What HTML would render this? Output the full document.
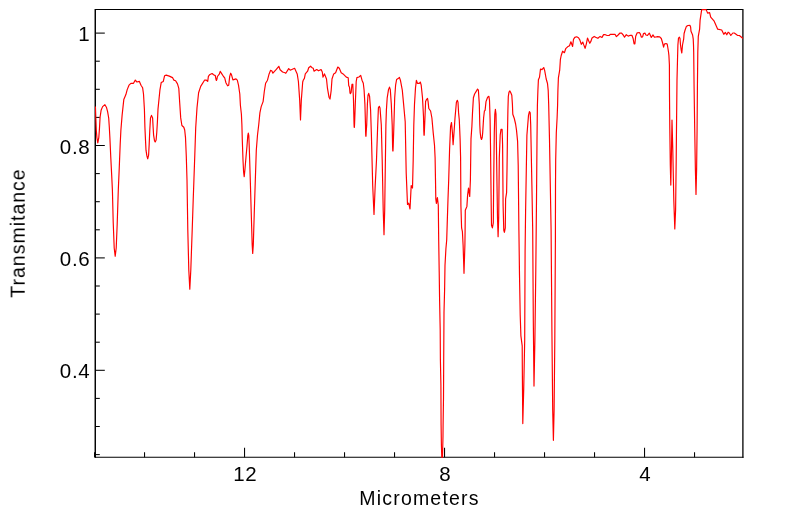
<!DOCTYPE html>
<html><head><meta charset="utf-8"><title>IR Spectrum</title>
<style>
html,body{margin:0;padding:0;background:#fff;}
body{width:799px;height:516px;overflow:hidden;}
svg{display:block;}
text{font-family:"Liberation Sans",sans-serif;fill:#000;}
.tl text{font-size:20.5px;letter-spacing:0.7px;}
.al{font-size:19.5px;letter-spacing:1.2px;}
</style></head>
<body>
<svg width="799" height="516" viewBox="0 0 799 516">
<rect x="0" y="0" width="799" height="516" fill="#fff"/>
<defs><clipPath id="cp"><rect x="95.0" y="8.9" width="648.2" height="448.95"/></clipPath></defs>
<g stroke="#000" stroke-width="1.05" fill="none">
<path d="M95.3,457.25 L95.3,9.5 L742.9,9.5" stroke-linejoin="miter"/>
<path d="M94.8,457.25 L743.5,457.25" stroke-width="1.2"/>
<path d="M742.9,9.0 L742.9,457.75" stroke-width="1.3"/>
<line x1="95.3" y1="9.0" x2="95.3" y2="457.75" stroke-width="1.2"/>
<line x1="95.3" y1="33.10" x2="104.8" y2="33.10"/><line x1="95.3" y1="61.20" x2="99.8" y2="61.20"/><line x1="95.3" y1="89.30" x2="99.8" y2="89.30"/><line x1="95.3" y1="117.40" x2="99.8" y2="117.40"/><line x1="95.3" y1="145.50" x2="104.8" y2="145.50"/><line x1="95.3" y1="173.60" x2="99.8" y2="173.60"/><line x1="95.3" y1="201.70" x2="99.8" y2="201.70"/><line x1="95.3" y1="229.80" x2="99.8" y2="229.80"/><line x1="95.3" y1="257.90" x2="104.8" y2="257.90"/><line x1="95.3" y1="286.00" x2="99.8" y2="286.00"/><line x1="95.3" y1="314.10" x2="99.8" y2="314.10"/><line x1="95.3" y1="342.20" x2="99.8" y2="342.20"/><line x1="95.3" y1="370.30" x2="104.8" y2="370.30"/><line x1="95.3" y1="398.40" x2="99.8" y2="398.40"/><line x1="95.3" y1="426.50" x2="99.8" y2="426.50"/><line x1="95.3" y1="454.60" x2="99.8" y2="454.60"/><line x1="694.55" y1="457.25" x2="694.55" y2="452.25"/><line x1="644.55" y1="457.25" x2="644.55" y2="447.85"/><line x1="594.55" y1="457.25" x2="594.55" y2="452.25"/><line x1="544.55" y1="457.25" x2="544.55" y2="452.25"/><line x1="494.55" y1="457.25" x2="494.55" y2="452.25"/><line x1="444.55" y1="457.25" x2="444.55" y2="447.85"/><line x1="394.55" y1="457.25" x2="394.55" y2="452.25"/><line x1="344.55" y1="457.25" x2="344.55" y2="452.25"/><line x1="294.55" y1="457.25" x2="294.55" y2="452.25"/><line x1="244.55" y1="457.25" x2="244.55" y2="447.85"/><line x1="194.55" y1="457.25" x2="194.55" y2="452.25"/><line x1="144.55" y1="457.25" x2="144.55" y2="452.25"/><line x1="94.55" y1="457.25" x2="94.55" y2="452.25"/>
</g>
<path d="M95.4,106.6 L96.3,130.0 L96.9,137.6 L97.8,142.9 L98.8,137.6 L99.5,128.0 L100.1,117.0 L101.1,110.3 L102.6,106.6 L104.9,104.7 L106.4,107.2 L107.6,111.6 L108.7,118.0 L109.3,127.0 L109.9,138.0 L110.8,157.7 L111.7,175.4 L112.4,190.0 L113.2,222.0 L114.2,248.0 L115.2,256.3 L116.2,248.0 L117.2,224.0 L118.3,190.0 L119.2,169.1 L120.2,143.9 L120.9,130.0 L122.1,115.4 L123.8,99.6 L125.9,94.6 L127.2,89.6 L129.0,85.2 L130.9,83.3 L133.5,83.3 L135.3,80.1 L136.9,82.0 L139.4,81.4 L141.0,85.2 L142.6,87.7 L143.5,94.0 L144.4,109.1 L144.9,127.0 L145.5,140.1 L146.0,150.2 L146.9,155.9 L147.7,158.8 L148.6,155.2 L149.2,143.9 L149.8,130.0 L150.5,117.9 L151.5,115.4 L152.6,117.9 L153.1,127.0 L153.6,135.1 L154.5,140.7 L155.2,142.0 L156.1,140.1 L156.8,132.0 L157.4,122.0 L158.0,109.1 L159.9,90.2 L161.2,82.6 L163.3,81.4 L164.6,75.7 L166.2,75.1 L169.3,76.1 L172.5,77.6 L173.8,80.1 L175.6,80.7 L177.5,83.9 L178.8,88.3 L179.7,102.8 L180.7,117.9 L181.9,125.5 L183.8,127.3 L184.7,130.0 L185.5,137.6 L186.3,156.5 L187.0,180.0 L187.8,230.0 L188.8,270.0 L189.8,289.2 L190.8,270.0 L192.2,230.0 L193.2,200.0 L193.9,180.4 L194.8,155.0 L195.7,128.0 L197.0,107.9 L198.6,92.7 L200.7,86.4 L204.5,80.2 L206.4,80.2 L207.7,81.4 L208.4,76.3 L209.5,74.8 L212.1,73.5 L213.6,74.8 L215.3,75.6 L215.9,79.0 L216.4,80.5 L217.0,79.0 L217.4,76.5 L219.3,74.1 L220.2,71.4 L221.5,73.4 L223.5,76.5 L224.7,77.8 L225.9,82.7 L227.6,85.8 L228.7,85.2 L229.7,76.4 L230.7,73.2 L231.6,75.1 L232.9,79.9 L236.0,78.9 L237.3,80.2 L238.5,85.2 L239.8,94.0 L240.4,105.3 L241.4,114.2 L241.9,125.0 L242.3,140.0 L243.0,160.0 L243.6,172.0 L244.2,176.6 L244.9,170.0 L246.0,157.0 L247.0,146.0 L247.8,135.5 L248.3,133.0 L248.8,135.5 L249.3,148.0 L250.3,180.4 L251.3,215.0 L252.2,245.0 L252.7,253.5 L253.3,245.0 L254.2,215.0 L255.3,180.4 L256.3,150.2 L257.5,135.0 L258.7,125.0 L259.9,112.9 L261.2,106.6 L263.1,101.6 L264.3,91.5 L265.6,83.3 L267.5,80.2 L269.1,73.9 L270.6,70.3 L271.9,71.1 L272.9,73.2 L276.3,69.4 L278.8,66.3 L280.1,69.8 L282.6,72.0 L285.0,72.8 L285.8,73.3 L288.7,68.6 L290.2,70.2 L294.6,68.3 L297.2,73.9 L298.4,81.5 L299.7,100.4 L300.5,119.9 L301.3,100.4 L302.7,82.0 L303.2,80.3 L304.4,78.4 L305.3,73.9 L307.6,71.2 L308.7,67.8 L310.6,66.2 L311.7,67.4 L313.2,68.2 L314.0,71.2 L316.7,69.5 L318.6,70.8 L321.1,69.5 L322.3,72.0 L323.0,77.1 L324.5,73.9 L326.5,79.0 L327.4,87.8 L329.0,97.2 L330.0,99.1 L331.2,90.3 L332.0,79.0 L333.7,73.9 L335.6,72.7 L337.8,67.0 L339.3,68.3 L341.2,72.7 L343.1,73.9 L346.3,77.1 L348.2,77.7 L348.7,85.5 L349.5,87.3 L350.0,93.0 L350.5,93.6 L351.1,92.4 L352.0,84.4 L352.8,84.2 L353.5,100.4 L354.0,123.1 L354.2,127.3 L354.4,127.3 L354.6,123.1 L355.3,104.1 L356.2,81.5 L356.9,77.6 L358.9,77.0 L360.7,75.4 L362.0,80.2 L363.3,83.3 L364.1,90.2 L364.9,104.1 L365.5,125.0 L365.6,131.9 L365.8,136.1 L366.0,136.1 L366.2,131.9 L366.7,125.0 L367.4,104.1 L368.0,95.3 L368.7,93.4 L369.6,96.5 L370.6,110.4 L371.4,135.0 L372.7,185.6 L374.0,214.5 L375.2,185.6 L376.5,160.0 L377.6,128.0 L378.4,107.9 L379.3,106.3 L380.0,107.9 L381.3,125.0 L382.2,160.0 L383.2,210.0 L384.0,234.7 L384.7,210.0 L385.4,160.0 L385.9,125.0 L386.4,110.0 L387.2,97.8 L388.5,89.6 L389.5,87.1 L390.3,89.6 L391.3,104.1 L392.2,125.0 L392.6,146.8 L392.8,151.0 L393.0,151.0 L393.2,146.8 L393.9,125.0 L394.7,97.8 L395.6,85.2 L396.6,79.5 L398.5,78.3 L399.4,77.4 L400.4,80.2 L402.3,90.2 L403.6,104.1 L405.2,121.7 L406.2,173.0 L407.5,204.5 L408.7,203.2 L410.0,209.0 L411.2,185.6 L412.5,188.1 L413.2,160.0 L413.8,125.0 L414.5,104.1 L415.5,87.7 L416.4,80.4 L417.4,83.3 L419.3,83.3 L420.3,82.0 L421.2,85.2 L422.5,97.8 L423.5,116.7 L423.8,131.0 L424.0,135.2 L424.2,135.2 L424.4,131.0 L425.0,116.7 L425.6,101.6 L426.6,99.3 L427.5,98.4 L428.1,101.6 L428.8,108.5 L430.6,111.0 L431.9,118.0 L433.2,132.6 L434.5,145.2 L435.1,157.8 L435.5,180.0 L435.8,198.9 L436.4,203.3 L437.4,197.6 L438.3,205.2 L438.7,240.0 L439.2,271.5 L439.6,300.0 L440.2,330.0 L440.4,360.0 L440.9,385.0 L441.1,425.0 L441.4,445.0 L441.8,457.5 L442.1,472.0 L442.5,457.5 L443.0,436.0 L443.1,425.0 L443.5,397.8 L443.7,360.0 L444.0,312.6 L444.6,290.0 L445.0,265.2 L445.9,249.0 L446.7,240.0 L447.2,224.0 L448.0,198.9 L448.7,180.0 L449.6,149.0 L450.6,126.3 L451.5,122.5 L452.4,132.6 L453.1,144.6 L454.0,132.6 L455.0,118.0 L456.4,102.2 L457.3,100.3 L458.0,102.2 L458.6,112.9 L459.3,120.0 L460.1,138.9 L460.6,157.8 L460.9,205.2 L461.6,227.9 L462.4,231.6 L463.1,245.0 L464.0,273.3 L464.9,245.0 L465.1,230.4 L465.3,210.2 L466.9,206.4 L467.6,195.1 L468.5,188.2 L469.7,196.4 L470.4,180.0 L471.0,138.9 L471.9,126.3 L472.5,112.9 L473.4,97.8 L474.6,94.0 L476.5,90.9 L477.5,89.0 L478.4,90.2 L479.3,104.1 L479.8,125.0 L480.2,132.6 L480.8,137.5 L481.5,139.5 L482.2,137.5 L482.7,132.6 L483.6,118.0 L484.4,111.0 L485.1,110.4 L486.0,101.6 L487.6,97.2 L488.9,96.3 L489.5,100.3 L490.1,120.0 L490.5,145.2 L491.2,205.2 L491.5,225.3 L492.4,227.9 L493.3,222.8 L493.7,180.0 L494.3,132.6 L494.8,114.2 L495.4,109.4 L496.0,114.0 L496.6,157.8 L497.5,217.8 L498.1,236.7 L498.7,217.8 L499.3,157.8 L500.2,135.1 L501.0,129.4 L502.1,129.4 L502.6,145.2 L503.1,205.2 L503.8,230.4 L504.4,232.3 L505.3,227.9 L505.6,198.9 L506.6,192.6 L507.0,170.0 L507.5,132.6 L507.9,110.4 L508.3,96.5 L509.0,92.1 L509.9,90.9 L510.8,92.7 L511.8,95.3 L512.4,104.1 L512.8,114.2 L514.3,118.5 L515.6,124.0 L516.5,130.1 L517.6,141.4 L518.2,165.0 L518.9,230.0 L519.5,275.0 L520.2,315.0 L520.9,335.8 L522.2,345.9 L522.2,346.0 L522.3,365.0 L522.5,390.0 L522.7,415.0 L522.8,423.6 L523.1,412.0 L523.7,390.0 L524.2,365.0 L524.7,340.0 L525.1,250.0 L525.6,210.8 L526.3,170.0 L526.9,135.2 L527.8,124.0 L528.5,115.4 L529.4,111.6 L530.2,112.9 L530.7,125.0 L531.2,150.0 L531.9,185.6 L532.7,230.0 L533.3,320.0 L534.0,386.1 L534.9,340.0 L535.8,270.0 L536.5,200.0 L537.0,140.0 L537.4,105.0 L537.9,90.4 L538.4,79.7 L539.5,77.2 L540.5,69.0 L542.0,69.6 L543.7,67.5 L544.6,70.2 L546.2,79.0 L547.5,83.5 L548.2,90.4 L548.7,105.0 L549.5,140.0 L550.3,185.0 L551.1,230.0 L551.9,330.0 L552.7,410.0 L553.4,440.3 L554.1,410.0 L554.8,340.0 L555.4,240.0 L555.5,185.0 L555.7,160.0 L556.3,133.0 L557.1,118.0 L557.6,105.0 L557.9,90.4 L558.4,77.8 L559.7,70.2 L560.4,59.3 L561.2,55.5 L562.6,51.2 L564.4,52.7 L565.7,48.7 L567.6,46.8 L569.5,45.8 L570.9,41.8 L572.6,46.5 L573.5,39.3 L574.8,37.4 L576.7,36.8 L578.5,37.7 L579.8,39.9 L581.3,44.3 L582.8,42.1 L583.8,44.9 L585.1,48.3 L586.4,43.6 L587.5,38.0 L588.5,40.5 L589.8,43.3 L591.0,41.1 L592.0,38.0 L594.2,36.4 L596.1,37.4 L597.9,38.3 L600.1,36.4 L602.0,37.4 L603.6,34.6 L605.3,34.7 L607.2,35.5 L609.1,35.5 L610.3,34.3 L615.0,34.3 L616.4,36.6 L618.1,35.0 L620.0,33.0 L621.6,33.1 L623.2,35.0 L624.5,37.2 L626.3,34.7 L628.2,36.1 L630.4,35.3 L631.9,35.3 L633.2,38.8 L634.1,43.8 L634.9,43.8 L635.7,36.3 L637.2,32.8 L639.4,32.5 L640.4,34.1 L641.3,37.2 L642.6,36.9 L643.5,33.5 L644.9,33.1 L645.9,35.0 L647.5,35.3 L649.3,33.1 L650.3,35.3 L651.3,37.5 L653.0,34.9 L654.4,37.2 L656.0,37.0 L657.5,36.6 L659.7,36.8 L661.3,38.5 L662.5,42.5 L663.6,47.2 L664.4,44.1 L666.0,43.5 L667.2,44.1 L667.8,47.5 L668.5,52.0 L668.9,55.4 L669.4,65.0 L669.5,95.3 L669.8,128.0 L670.3,165.0 L670.8,185.1 L671.3,160.0 L672.0,120.1 L672.8,150.0 L673.8,200.0 L674.8,229.0 L675.6,210.0 L676.2,160.0 L676.5,128.0 L677.0,80.0 L677.5,60.0 L677.9,45.0 L678.5,38.1 L679.4,37.2 L680.0,38.5 L680.5,45.0 L681.3,50.7 L681.8,53.0 L682.5,45.0 L683.7,38.8 L684.1,33.5 L685.1,30.0 L686.3,26.6 L687.9,25.5 L689.9,25.3 L690.6,26.9 L691.0,31.3 L692.6,35.0 L693.2,38.8 L693.5,45.0 L693.7,52.0 L694.1,87.8 L694.7,128.0 L695.4,170.0 L696.0,194.4 L696.6,170.0 L697.1,128.0 L697.4,87.8 L697.8,52.0 L698.3,36.3 L699.6,29.2 L700.1,20.2 L701.6,10.1 L702.2,9.6 L705.8,9.6 L706.3,9.9 L707.6,13.1 L709.6,12.6 L710.7,17.1 L714.2,21.2 L717.7,29.2 L721.7,30.0 L723.8,34.3 L725.3,32.4 L726.8,34.8 L728.1,32.2 L729.3,33.0 L730.8,35.5 L732.8,33.0 L734.3,33.0 L737.4,35.3 L739.4,35.5 L743.0,38.5" fill="none" stroke="#ff0000" stroke-width="1.18" stroke-linejoin="round" clip-path="url(#cp)"/>
<g opacity="0.999"><g class="tl"><text x="90.4" y="41.2" text-anchor="end">1</text><text x="90.4" y="153.6" text-anchor="end">0.8</text><text x="90.4" y="266.0" text-anchor="end">0.6</text><text x="90.4" y="378.4" text-anchor="end">0.4</text><text x="245.3" y="481" text-anchor="middle">12</text><text x="445.3" y="481" text-anchor="middle">8</text><text x="645.3" y="481" text-anchor="middle">4</text></g>
<text class="al" x="419.5" y="505" text-anchor="middle">Micrometers</text>
<text class="al" style="letter-spacing:1.0px" transform="translate(24.7,233.0) rotate(-90)" text-anchor="middle">Transmitance</text></g>
</svg>
</body></html>
